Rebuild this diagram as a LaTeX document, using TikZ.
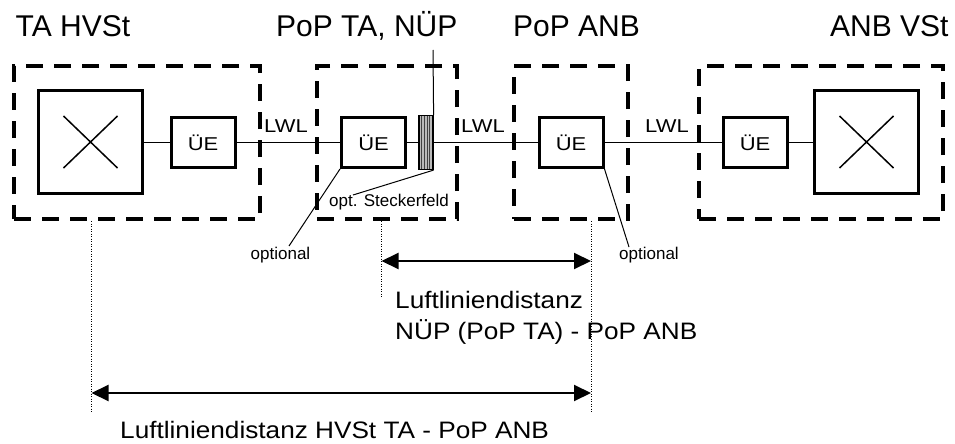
\documentclass[tikz,border=0pt]{standalone}
\usepackage{fontspec}
\setmainfont{Liberation Sans}
\newfontfamily\widefont[FakeStretch=1.18]{Liberation Sans}
\newfontfamily\midfont[FakeStretch=1.1]{Liberation Sans}
\usetikzlibrary{arrows.meta}
\begin{document}
\begin{tikzpicture}[x=1pt,y=-1pt,
  dbox/.style={draw, line width=4pt, dash pattern=on 17pt off 11pt, inner sep=0pt},
  sw/.style={draw, line width=3pt, minimum width=104pt, minimum height=103pt, inner sep=0pt,
    path picture={
      \draw[line width=1.5pt] ([shift={(-27pt,-26pt)}]path picture bounding box.center) -- ([shift={(27pt,26pt)}]path picture bounding box.center);
      \draw[line width=1.5pt] ([shift={(-27pt,26pt)}]path picture bounding box.center) -- ([shift={(27pt,-26pt)}]path picture bounding box.center);}},
  ue/.style={draw, line width=3pt, minimum width=64pt, minimum height=50pt, inner sep=0pt,
    font=\widefont\fontsize{18.6}{20}\selectfont},
  stk/.style={draw, line width=1.2pt, fill=gray!55, minimum width=14pt, minimum height=54pt, inner sep=0pt,
    path picture={
      \foreach \dx in {-4.2,-1.6,1,3.6}
        \draw[line width=0.7pt, black!75] ([xshift=\dx pt]path picture bounding box.north) -- ([xshift=\dx pt]path picture bounding box.south);}},
  conn/.style={line width=1.5pt},
  lead/.style={line width=1pt},
  dotl/.style={line width=1pt, dash pattern=on 1pt off 1.5pt},
  dim/.style={line width=2pt, {Triangle[length=17pt,width=16pt]}-{Triangle[length=17pt,width=16pt]}},
  ttl/.style={anchor=base west, inner sep=0pt, font=\fontsize{30}{36}\selectfont},
  lwl/.style={anchor=base west, inner sep=0pt, font=\widefont\fontsize{18.6}{20}\selectfont},
  smalltxt/.style={anchor=base west, inner sep=0pt, font=\fontsize{17}{20}\selectfont},
  dist/.style={anchor=base west, inner sep=0pt, font=\midfont\fontsize{23.8}{28}\selectfont}
]
\useasboundingbox (0,0) rectangle (955,444);

% dashed enclosures
\node[dbox, minimum width=246pt, minimum height=153pt] (b1) at (137,142.5) {};
\node[dbox, minimum width=140pt, minimum height=153pt] (b2) at (387,142.5) {};
\node[dbox, minimum width=114pt, minimum height=153pt] (b3) at (571,142.5) {};
\node[dbox, minimum width=244pt, minimum height=153pt] (b4) at (821,142.5) {};

% titles
\node[ttl] (t1) at (15.5,36.5) {TA HVSt};
\node[ttl] (t2) at (276,36.5) {PoP TA, NÜP};
\node[ttl] (t3) at (513,36.5) {PoP ANB};
\node[ttl] (t4) at (830,36.5) {ANB VSt};

% equipment
\node[sw] (s1) at (90.5,142) {};
\node[ue] (u1) at (203,142.5) {ÜE};
\node[ue] (u2) at (373.5,142.5) {ÜE};
\node[stk] (k) at (426,142.5) {};
\node[ue] (u3) at (571,142.5) {ÜE};
\node[ue] (u4) at (755,142.5) {ÜE};
\node[sw] (s4) at (866.5,142) {};

% connections
\draw[conn] (s1.east |- u1.west) -- (u1.west);
\draw[conn] (u1) -- (u2);
\draw[conn] (u2) -- (k);
\draw[conn] (k) -- (u3);
\draw[conn] (u3) -- (u4);
\draw[conn] (u4.east) -- (s4.west |- u4.east);

% LWL labels
\node[lwl] (l1) at (264,132.7) {LWL};
\node[lwl] (l2) at (461,132.7) {LWL};
\node[lwl] (l3) at (645,132.7) {LWL};

% NÜP marker line
\coordinate (ktop) at (433,50);
\draw[lead] (k.north east) -- (ktop);

% leader labels
\node[smalltxt] (ks) at (329,206.7) {opt. Steckerfeld};
\node[smalltxt] (o1) at (250.5,259) {optional};
\node[smalltxt] (o2) at (619,259) {optional};
\coordinate (ksl) at (353,195);
\coordinate (o1l) at (289,246);
\coordinate (o2l) at (629,247);
\draw[lead] (k.south east) -- (ksl);
\draw[lead] (u2.south west) -- (o1l);
\draw[lead] (u3.south east) -- (o2l);

% dimension guides
\coordinate (d1t) at (91.5,221); \coordinate (d1b) at (91.5,413);
\coordinate (d2t) at (381.5,221); \coordinate (d2b) at (381.5,297);
\coordinate (d3t) at (591,221); \coordinate (d3b) at (591,413);
\draw[dotl] (d1t) -- (d1b);
\draw[dotl] (d2t) -- (d2b);
\draw[dotl] (d3t) -- (d3b);
\coordinate (a1l) at (381.5,261); \coordinate (a1r) at (591,261);
\coordinate (a2l) at (91.5,393); \coordinate (a2r) at (591,393);
\draw[dim] (a1l) -- (a1r);
\draw[dim] (a2l) -- (a2r);

% distance labels
\node[dist] (n1) at (395,308.3) {Luftliniendistanz};
\node[dist] (n2) at (395,339.3) {NÜP (PoP TA) - PoP ANB};
\node[dist] (n3) at (120,438.3) {Luftliniendistanz HVSt TA - PoP ANB};
\end{tikzpicture}
\end{document}
